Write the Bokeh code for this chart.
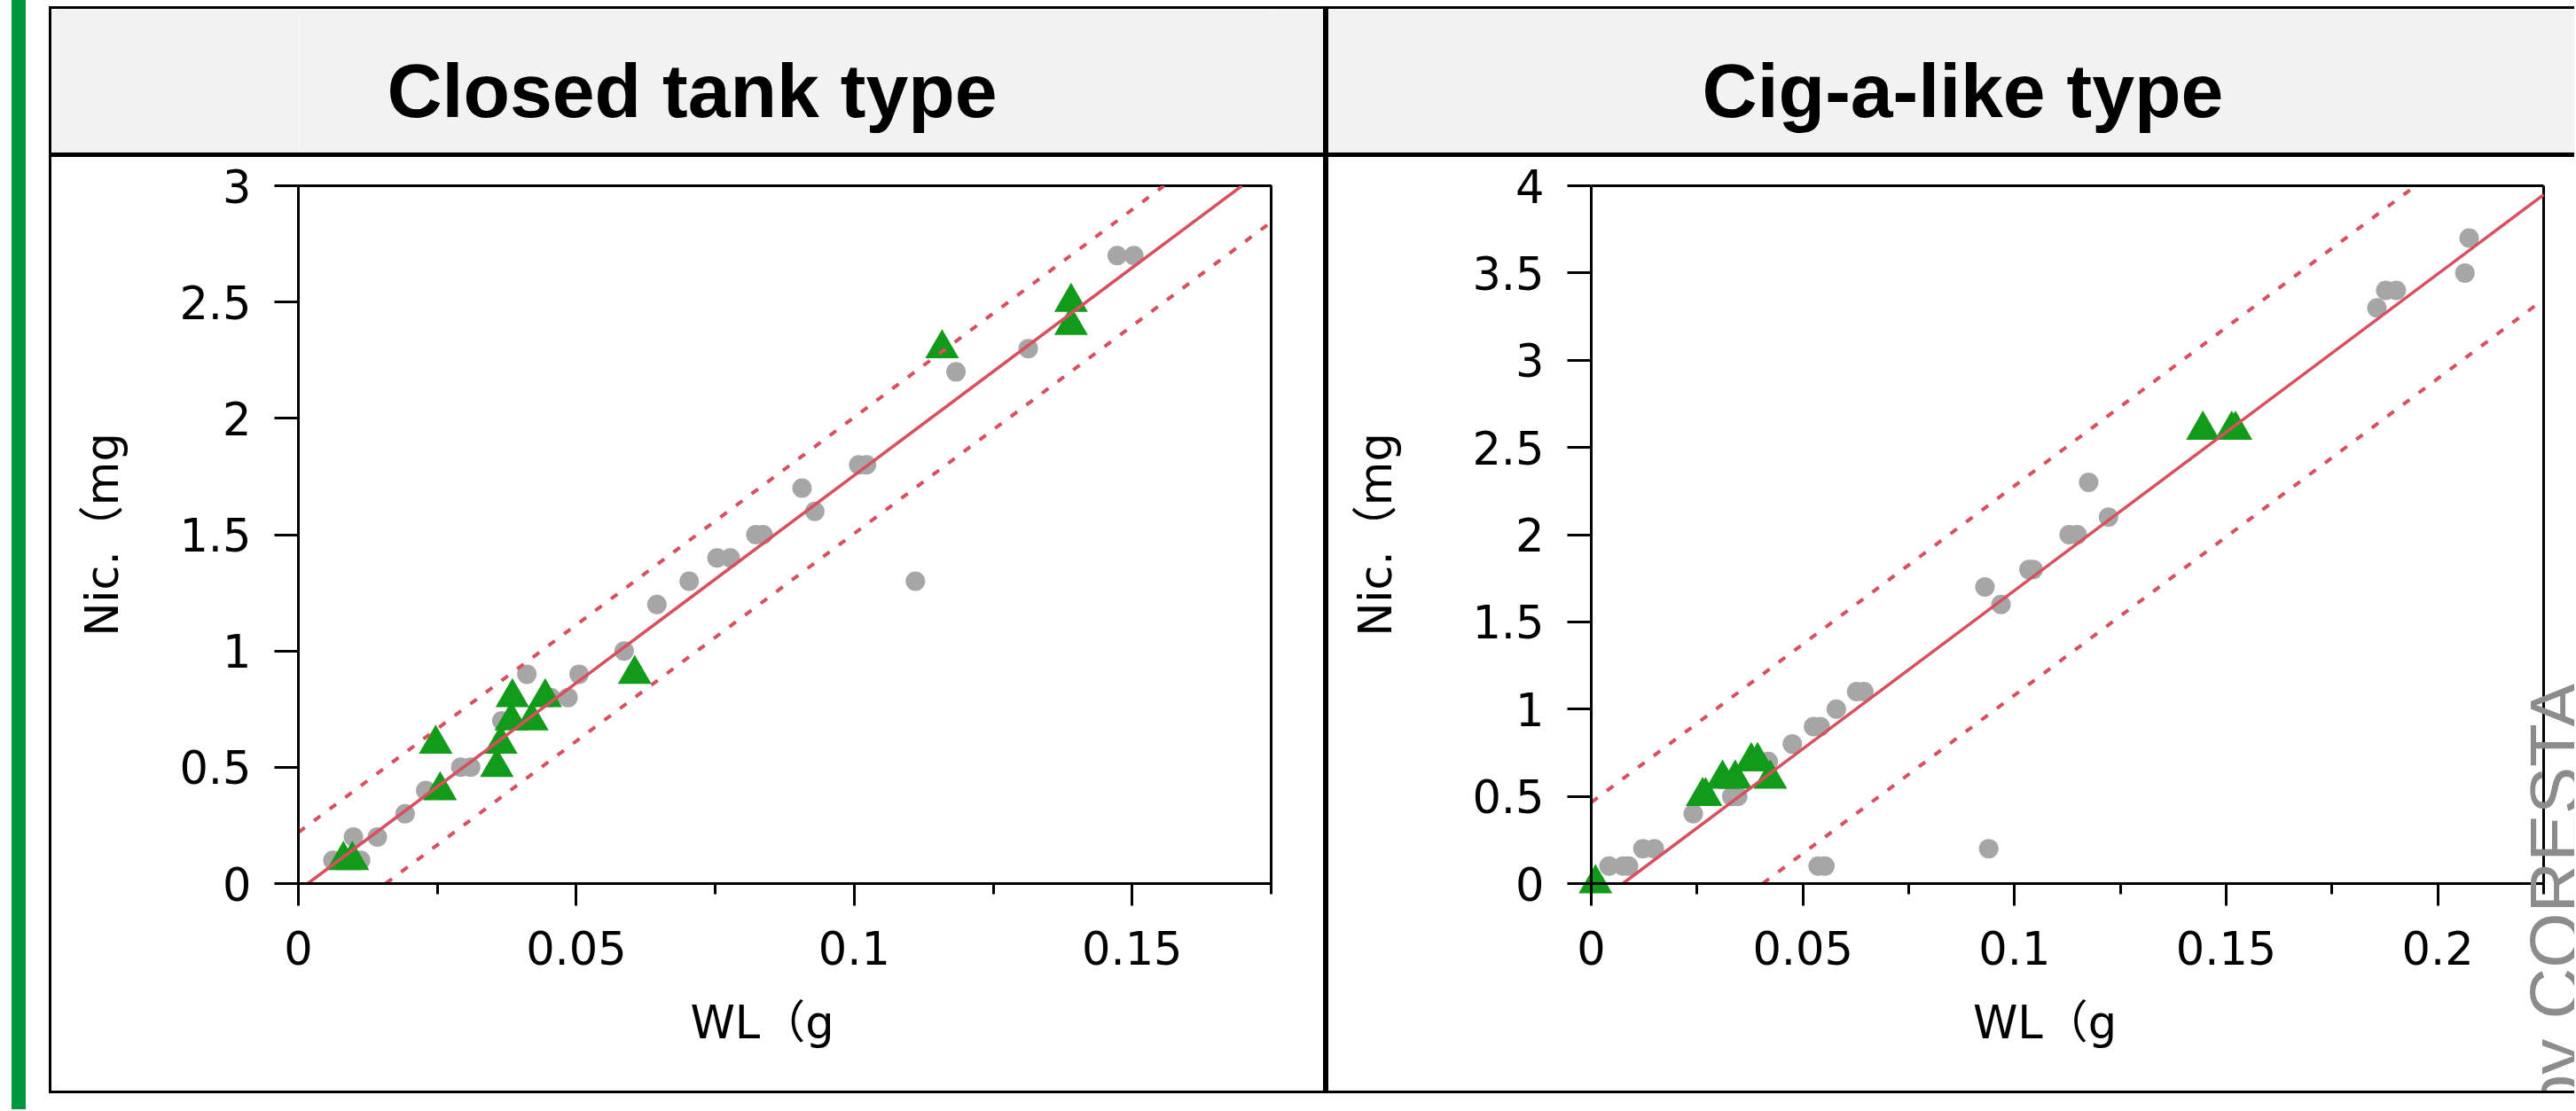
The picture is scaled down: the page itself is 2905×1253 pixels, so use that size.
from bokeh.plotting import figure
from bokeh.layouts import row, column
from bokeh.models import Range1d, FixedTicker, Label, Spacer
from bokeh.embed import file_html
from bokeh.resources import INLINE

# ---------------- data ----------------
panel_titles = ["Closed tank type", "Cig-a-like type"]
x_axis_label = "WL（g　"
y_axis_label = "Nic.（mg"
watermark = "by CORESTA"

# Closed tank type
tank_gray_wl = [0.0062, 0.0112, 0.0099, 0.0142, 0.0192, 0.0229, 0.0255, 0.0292, 0.0310,
                0.0366, 0.0411, 0.0454, 0.0485, 0.0505, 0.0586, 0.0645, 0.0703, 0.0753,
                0.0777, 0.0823, 0.0836, 0.0906, 0.0929, 0.1008, 0.1022, 0.1110, 0.1183,
                0.1313, 0.1473, 0.1503]
tank_gray_nic = [0.1, 0.1, 0.2, 0.2, 0.3, 0.4, 0.4, 0.5, 0.5,
                 0.7, 0.9, 0.8, 0.8, 0.9, 1.0, 1.2, 1.3, 1.4,
                 1.4, 1.5, 1.5, 1.7, 1.6, 1.8, 1.8, 1.3, 2.2,
                 2.3, 2.7, 2.7]
tank_green_wl = [0.0081, 0.0097, 0.0247, 0.0255, 0.0357, 0.0364, 0.0383, 0.0420,
                 0.0385, 0.0444, 0.0605, 0.1158, 0.1390, 0.1390]
tank_green_nic = [0.1, 0.1, 0.6, 0.4, 0.5, 0.6, 0.7, 0.7,
                  0.8, 0.8, 0.9, 2.3, 2.4, 2.5]
tank_fit = [17.85, -0.03]      # slope, intercept of the fitted line
tank_band = 0.25               # half width of the dotted band
tank_x_max = 0.175
tank_y_max = 3
tank_x_ticks = [0, 0.05, 0.1, 0.15]
tank_x_labels = ["0", "0.05", "0.1", "0.15"]
tank_x_minor = [0.025, 0.075, 0.125, 0.175]
tank_y_ticks = [0, 0.5, 1, 1.5, 2, 2.5, 3]
tank_y_labels = ["0", "0.5", "1", "1.5", "2", "2.5", "3"]

# Cig-a-like type
cig_gray_wl = [0.0042, 0.0075, 0.0088, 0.0122, 0.0149, 0.0241, 0.0332, 0.0346, 0.0418,
               0.0475, 0.0525, 0.0541, 0.0536, 0.0552, 0.0579, 0.0627, 0.0644, 0.0930,
               0.0939, 0.0968, 0.1034, 0.1044, 0.1129, 0.1148, 0.1175, 0.1222, 0.1856,
               0.1877, 0.1902, 0.2064, 0.2074]
cig_gray_nic = [0.1, 0.1, 0.1, 0.2, 0.2, 0.4, 0.5, 0.5, 0.7,
                0.8, 0.9, 0.9, 0.1, 0.1, 1.0, 1.1, 1.1, 1.7,
                0.2, 1.6, 1.8, 1.8, 2.0, 2.0, 2.3, 2.1, 3.3,
                3.4, 3.4, 3.5, 3.7]
cig_green_wl = [0.0010, 0.0263, 0.0270, 0.0310, 0.0340, 0.0378, 0.0393, 0.0423,
                0.1445, 0.1513, 0.1522]
cig_green_nic = [0.0, 0.5, 0.5, 0.6, 0.6, 0.7, 0.7, 0.6,
                 2.6, 2.6, 2.6]
cig_fit = [18.15, -0.135]
cig_band = 0.6
cig_x_max = 0.225
cig_y_max = 4
cig_x_ticks = [0, 0.05, 0.1, 0.15, 0.2]
cig_x_labels = ["0", "0.05", "0.1", "0.15", "0.2"]
cig_x_minor = [0.025, 0.075, 0.125, 0.175, 0.225]
cig_y_ticks = [0, 0.5, 1, 1.5, 2, 2.5, 3, 3.5, 4]
cig_y_labels = ["0", "0.5", "1", "1.5", "2", "2.5", "3", "3.5", "4"]

# ---------------- styling / layout ----------------
RED = "#D8505E"
GRAY = "#A6A6A6"
GREEN = "#129A1B"
BAR_GREEN = "#00963F"
STRIP = "#F2F2F2"
TICK_FONT = "DejaVu Sans"
LABEL_FONT = "DejaVu Sans, Noto Sans CJK JP"
TITLE_H = 162
PLOT_H = 1053
TOP_B = 32           # px above the plotting box
FRAME_H = 787        # px height of the plotting box
BOTTOM_B = PLOT_H - TOP_B - FRAME_H


def solid(w, h, color):
    return Spacer(width=w, height=h, styles={"background-color": color})


def build_panel(title, gx, gy, tx, ty, fit, band, x_max, y_max,
                x_ticks, x_labels, x_minor, y_ticks, y_labels,
                width, title_center, border_left, frame_w, ylabel_standoff, extend):
    border_right = width - border_left - frame_w

    # ---- plot
    if extend:
        # plotting area covers the whole canvas (axes drawn at x=0 / y=0) so
        # that the watermark is not clipped; the axis box is drawn explicitly
        x_rng = Range1d(-x_max * border_left / frame_w,
                        x_max * (width - border_left) / frame_w)
        y_rng = Range1d(y_max - y_max * (PLOT_H - TOP_B) / FRAME_H,
                        y_max + y_max * TOP_B / FRAME_H)
        mb = dict(min_border_left=0, min_border_right=0, min_border_top=0,
                  min_border_bottom=0)
        t_rng = Range1d(0, width)
    else:
        x_rng = Range1d(0, x_max)
        y_rng = Range1d(0, y_max)
        mb = dict(min_border_left=border_left, min_border_right=border_right,
                  min_border_top=TOP_B, min_border_bottom=BOTTOM_B)
        t_rng = Range1d(border_left, border_left + frame_w)

    p = figure(width=width, height=PLOT_H, x_range=x_rng, y_range=y_rng,
               toolbar_location=None, output_backend="svg", **mb)
    p.background_fill_color = "white"
    p.border_fill_color = "white"
    p.xgrid.visible = False
    p.ygrid.visible = False
    if extend:
        p.outline_line_color = None
        p.line([0, x_max], [y_max, y_max], line_color="black", line_width=3)
        p.line([x_max, x_max], [0, y_max], line_color="black", line_width=3)
    else:
        p.outline_line_color = "black"
        p.outline_line_width = 3

    p.scatter(gx, gy, marker="circle", size=22, fill_color=GRAY, line_color=None)
    p.scatter(tx, ty, marker="triangle", size=38, fill_color=GREEN, line_color=None)

    slope, icpt = fit
    for off, dash, lw in ((0, "solid", 3.5), (band, "9 13", 4), (-band, "9 13", 4)):
        x0 = max(0.0, -(icpt + off) / slope)
        x1 = min(x_max, (y_max - icpt - off) / slope)
        xs = [x0, x1]
        p.line(xs, [slope * x + icpt + off for x in xs], line_color=RED,
               line_width=lw, line_dash=dash)

    xa = p.xaxis[0]
    ya = p.yaxis[0]
    if extend:
        xa.fixed_location = 0
        ya.fixed_location = 0
        xa.bounds = (0, x_max)
        ya.bounds = (0, y_max)
    xa.ticker = FixedTicker(ticks=x_ticks, minor_ticks=x_minor)
    xa.major_label_overrides = dict(zip(x_ticks, x_labels))
    ya.ticker = FixedTicker(ticks=y_ticks, minor_ticks=[])
    ya.major_label_overrides = dict(zip(y_ticks, y_labels))
    xa.axis_label = x_axis_label
    ya.axis_label = y_axis_label
    for ax in (xa, ya):
        ax.axis_line_width = 3
        ax.axis_line_color = "black"
        ax.major_tick_line_width = 3
        ax.major_tick_line_color = "black"
        ax.major_tick_in = 0
        ax.major_label_text_font = TICK_FONT
        ax.major_label_text_font_size = "51px"
        ax.major_label_text_color = "black"
        ax.axis_label_text_font = LABEL_FONT
        ax.axis_label_text_font_size = "51px"
        ax.axis_label_text_font_style = "normal"
        ax.axis_label_text_color = "black"
    xa.major_tick_out = 25
    xa.minor_tick_out = 12
    xa.minor_tick_in = 0
    xa.minor_tick_line_width = 3
    xa.minor_tick_line_color = "black"
    ya.major_tick_out = 27
    ya.minor_tick_line_color = None
    xa.major_label_standoff = 28
    ya.major_label_standoff = 26
    xa.axis_label_standoff = 33
    ya.axis_label_standoff = ylabel_standoff

    # ---- title strip (its plotting box lines up with the plot's; the
    # x range is set so that data units equal canvas pixels)
    t = figure(width=width, height=TITLE_H, x_range=t_rng,
               y_range=Range1d(0, TITLE_H), min_border=0, toolbar_location=None,
               output_backend="svg")
    t.xaxis.visible = False
    t.yaxis.visible = False
    t.grid.visible = False
    t.background_fill_color = STRIP
    t.border_fill_color = STRIP
    t.outline_line_color = None
    t.add_layout(Label(x=title_center, y=71, text=title, text_align="center",
                       text_baseline="middle", text_font="Liberation Sans",
                       text_font_style="bold", text_font_size="86px",
                       text_color="black"))

    inner = column(solid(width, 3, "black"), t, solid(width, 5, "black"), p,
                   solid(width, 3, "black"))
    return p, inner


p1, inner1 = build_panel(panel_titles[0], tank_gray_wl, tank_gray_nic, tank_green_wl,
                         tank_green_nic, tank_fit, tank_band, tank_x_max, tank_y_max,
                         tank_x_ticks, tank_x_labels, tank_x_minor, tank_y_ticks,
                         tank_y_labels, 1434, 722, 278, 1097, 54, False)
p2, inner2 = build_panel(panel_titles[1], cig_gray_wl, cig_gray_nic, cig_green_wl,
                         cig_green_nic, cig_fit, cig_band, cig_x_max, cig_y_max,
                         cig_x_ticks, cig_x_labels, cig_x_minor, cig_y_ticks,
                         cig_y_labels, 1405, 715, 296, 1074, 76, True)

# watermark, just right of the axis box
p2.add_layout(Label(x=cig_x_max * 1.012, y=-cig_y_max * 0.33, text=watermark,
                    angle=90, angle_units="deg", text_font="Liberation Sans",
                    text_font_size="80px", text_color="#8C8C8C",
                    text_align="left", text_baseline="middle"))

panel1 = column(Spacer(width=1440, height=7),
                row(solid(3, 1226, "black"), inner1, solid(3, 1226, "black")))
panel2 = column(Spacer(width=1408, height=7),
                row(solid(3, 1226, "black"), inner2))

layout = row(Spacer(width=13, height=1251), solid(16, 1251, BAR_GREEN),
             Spacer(width=26, height=1251), panel1, panel2)

open("out.html", "w").write(file_html(layout, INLINE))
